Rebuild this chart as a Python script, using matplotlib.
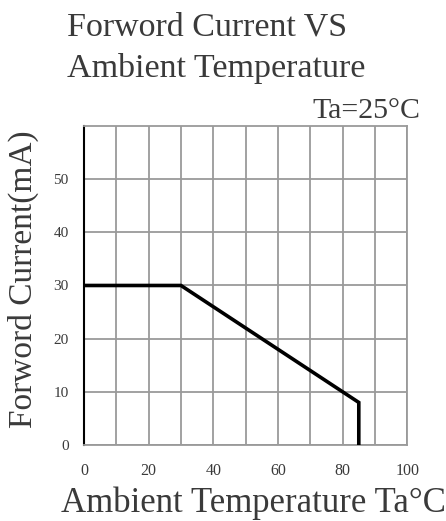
import matplotlib
matplotlib.use("Agg")
import matplotlib.pyplot as plt

# derating curve: forward current vs ambient temperature
temp_c = [0, 30, 85, 85]
current_ma = [30, 30, 8, 0]

x_major = [0, 20, 40, 60, 80, 100]
x_minor = [10, 30, 50, 70, 90]
y_ticks = [0, 10, 20, 30, 40, 50]

txt_col = "#3a3a3a"
grid_col = "#9a9a9a"
serif = "Liberation Serif"

fig = plt.figure(figsize=(4.46, 5.21), dpi=100)
ax = fig.add_axes([0.1883, 0.1459, 0.7249, 0.6123])

ax.plot(temp_c, current_ma, color="black", lw=2.6, solid_joinstyle="miter", zorder=3)

ax.set_xlim(0, 100)
ax.set_ylim(0, 60)
ax.set_xticks(x_major)
ax.set_xticks(x_minor, minor=True)
ax.set_yticks(y_ticks)
ax.grid(True, which="both", color=grid_col, lw=1.3)
ax.tick_params(which="both", length=0)
ax.tick_params(axis="x", pad=13, labelsize=11.5, labelcolor=txt_col)
ax.tick_params(axis="y", pad=11, labelsize=11, labelcolor=txt_col)
for lab in ax.get_xticklabels() + ax.get_yticklabels():
    lab.set_family(serif)

for side in ["top", "right", "bottom"]:
    ax.spines[side].set_color(grid_col)
    ax.spines[side].set_linewidth(1.3)
ax.spines["left"].set_color("black")
ax.spines["left"].set_linewidth(1.5)

fig.text(0.150, 0.9328, "Forword Current VS", family=serif,
         fontsize=24.5, color=txt_col, ha="left", va="baseline")
fig.text(0.150, 0.8522, "Ambient Temperature", family=serif,
         fontsize=24.5, color=txt_col, ha="left", va="baseline")
fig.text(0.942, 0.773, "Ta=25°C", family=serif,
         fontsize=21.5, color=txt_col, ha="right", va="baseline")
fig.text(0.137, 0.018, "Ambient Temperature Ta°C", family=serif,
         fontsize=25, color=txt_col, ha="left", va="baseline")
fig.text(0.053, 0.464, "Forword Current(mA)", family=serif,
         fontsize=24, color=txt_col, ha="center", va="center", rotation=90)

fig.savefig("out.png", dpi=100)
